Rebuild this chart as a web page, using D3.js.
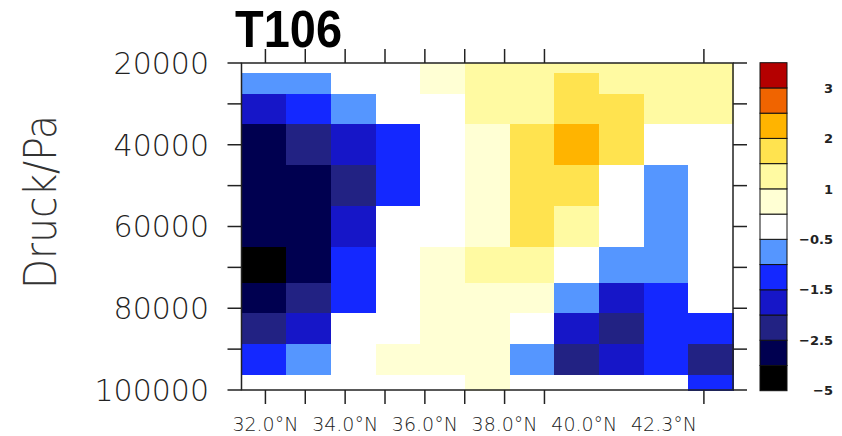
<!DOCTYPE html>
<html>
<head>
<meta charset="utf-8">
<script src="https://cdn.jsdelivr.net/npm/d3@7"></script>
<style>
  html, body { margin: 0; padding: 0; background: #fff; }
  svg { display: block; }
</style>
</head>
<body>
<svg id="chart"></svg>
<script>
// pressure levels (Pa), top to bottom
const levels = [20000, 25000, 30000, 40000, 50000, 60000, 70000, 77500, 85000, 92500, 100000];
// T106 gaussian latitudes (deg N)
const lats = [31.96, 33.08, 34.20, 35.33, 36.45, 37.57, 38.69, 39.81, 40.93, 42.05, 43.17];
// anomaly values, one row per pressure level
const row20000  = [0.1, 0.2, 0.3, 0.4, 0.8, 1.1, 1.2, 1.3, 1.2, 1.1, 1.1];
const row25000  = [-0.8, -0.7, -0.3, 0.2, 0.7, 1.2, 1.3, 1.6, 1.4, 1.2, 1.1];
const row30000  = [-1.8, -1.3, -0.9, -0.2, 0.3, 1.1, 1.4, 1.8, 1.6, 1.2, 1.1];
const row40000  = [-2.8, -2.3, -1.9, -1.4, -0.1, 0.8, 1.9, 2.1, 1.6, 0.4, 0.2];
const row50000  = [-2.9, -2.7, -2.1, -1.2, -0.3, 0.9, 1.8, 1.6, 0.3, -0.6, -0.2];
const row60000  = [-2.9, -2.8, -1.8, -0.4, 0.0, 0.7, 1.7, 1.2, 0.2, -0.8, -0.3];
const row70000  = [-3.2, -2.6, -1.4, -0.2, 0.6, 1.1, 1.1, 0.4, -0.6, -0.9, -0.4];
const row77500  = [-2.6, -2.4, -1.3, 0.1, 0.6, 0.8, 0.7, -0.9, -1.9, -1.4, -0.4];
const row85000  = [-2.3, -1.6, -0.3, 0.4, 0.6, 0.7, 0.3, -1.7, -2.2, -1.4, -1.2];
const row92500  = [-1.4, -0.8, 0.0, 0.6, 0.7, 0.6, -0.7, -2.3, -1.9, -1.3, -2.1];
const row100000 = [-0.2, 0.0, 0.2, 0.3, 0.4, 0.6, 0.3, 0.1, -0.2, -0.4, -1.1];
const values = [row20000, row25000, row30000, row40000, row50000, row60000,
                row70000, row77500, row85000, row92500, row100000];

// contour levels and fill colours (low -> high)
const cnLevels = [-3, -2.5, -2, -1.5, -1, -0.5, 0.5, 1, 1.5, 2, 2.5, 3];
const palette = ["#000000", "#000050", "#222283", "#1616c8", "#1428ff", "#5596ff", "#ffffff",
                 "#ffffd4", "#fffaa2", "#ffe34f", "#ffb400", "#f06400", "#b40000"];
// labelbar labels, every other box edge starting at the bottom
const cbLabels = ["\u22125", "\u22122.5", "\u22121.5", "\u22120.5", "1", "2", "3"];

const yTicks = [20000, 30000, 40000, 50000, 60000, 70000, 80000, 90000, 100000];
const yLabelTicks = [20000, 40000, 60000, 80000, 100000];
const xTicks = [32, 33, 34, 35, 36, 37, 38, 39, 43];
const xLabelLats = [32, 34, 36, 38, 40, 42];
const xLabels = ["32.0°N", "34.0°N", "36.0°N", "38.0°N", "40.0°N", "42.3°N"];

const width = 842, height = 436;
const plotLeft = 241.5, plotRight = 733, plotTop = 63, plotBottom = 390;
const thinFont = "'DejaVu Sans', sans-serif";

const svg = d3.select("#chart")
    .attr("width", width)
    .attr("height", height)
    .attr("viewBox", [0, 0, width, height]);

// cell edges
const latEdges = [lats[0] - (lats[1] - lats[0]) / 2];
for (let i = 1; i < lats.length; i++) latEdges.push((lats[i - 1] + lats[i]) / 2);
latEdges.push(lats[lats.length - 1] + (lats[lats.length - 1] - lats[lats.length - 2]) / 2);
const pEdges = [levels[0]];
for (let i = 1; i < levels.length; i++) pEdges.push((levels[i - 1] + levels[i]) / 2);
pEdges.push(levels[levels.length - 1]);

const x = d3.scaleLinear()
    .domain([latEdges[0], latEdges[latEdges.length - 1]])
    .range([plotLeft, plotRight]);
const y = d3.scaleLinear()
    .domain([20000, 100000])
    .range([plotTop, plotBottom]);
const color = d3.scaleThreshold().domain(cnLevels).range(palette);

const cells = [];
values.forEach((row, i) => row.forEach((v, j) => cells.push({i, j, v})));

svg.append("g")
    .attr("shape-rendering", "crispEdges")
  .selectAll("rect")
  .data(cells)
  .join("rect")
    .attr("x", d => x(latEdges[d.j]))
    .attr("y", d => y(pEdges[d.i]))
    .attr("width", d => x(latEdges[d.j + 1]) - x(latEdges[d.j]) + 0.5)
    .attr("height", d => y(pEdges[d.i + 1]) - y(pEdges[d.i]) + 0.5)
    .attr("fill", d => color(d.v));

// frame
svg.append("rect")
    .attr("x", plotLeft).attr("y", plotTop)
    .attr("width", plotRight - plotLeft).attr("height", plotBottom - plotTop)
    .attr("fill", "none").attr("stroke", "#222").attr("stroke-width", 1.5);

// axes (outward ticks on all four sides)
const tickLen = 14;
const ax = svg.append("g").attr("stroke", "#222").attr("stroke-width", 1.5);
ax.selectAll(".tl").data(yTicks).join("line")
    .attr("x1", plotLeft - tickLen).attr("x2", plotLeft)
    .attr("y1", d => y(d)).attr("y2", d => y(d));
ax.selectAll(".tr").data(yTicks).join("line")
    .attr("x1", plotRight).attr("x2", plotRight + tickLen)
    .attr("y1", d => y(d)).attr("y2", d => y(d));
ax.selectAll(".tt").data(xTicks).join("line")
    .attr("x1", d => x(d)).attr("x2", d => x(d))
    .attr("y1", plotTop - tickLen).attr("y2", plotTop);
ax.selectAll(".tb").data(xTicks).join("line")
    .attr("x1", d => x(d)).attr("x2", d => x(d))
    .attr("y1", plotBottom).attr("y2", plotBottom + tickLen);

svg.append("g")
  .selectAll("text")
  .data(yLabelTicks)
  .join("text")
    .attr("x", 209)
    .attr("y", d => y(d))
    .attr("dy", "0.36em")
    .attr("text-anchor", "end")
    .attr("font-family", thinFont)
    .attr("font-weight", 200)
    .attr("font-size", 30)
    .attr("fill", "#222")
    .text(d => d);

svg.append("g")
  .selectAll("text")
  .data(xLabelLats)
  .join("text")
    .attr("x", d => x(d))
    .attr("y", 431)
    .attr("text-anchor", "middle")
    .attr("font-family", thinFont)
    .attr("font-weight", 200)
    .attr("font-size", 19)
    .attr("fill", "#222")
    .text((d, i) => xLabels[i]);

// y axis title
svg.append("text")
    .attr("transform", "translate(56,202) rotate(-90)")
    .attr("text-anchor", "middle")
    .attr("font-family", thinFont)
    .attr("font-weight", 200)
    .attr("font-size", 44)
    .attr("fill", "#333")
    .attr("textLength", 174)
    .attr("lengthAdjust", "spacingAndGlyphs")
    .text("Druck/Pa");

// title
svg.append("text")
    .attr("x", 235)
    .attr("y", 46.5)
    .attr("font-family", "'Liberation Sans', Arial, sans-serif")
    .attr("font-weight", "bold")
    .attr("font-size", 52)
    .attr("fill", "#000")
    .attr("textLength", 107)
    .attr("lengthAdjust", "spacingAndGlyphs")
    .text("T106");

// labelbar
const cb = d3.scaleLinear().domain([0, palette.length]).range([390.7, 62.7]);
const cbg = svg.append("g");
cbg.selectAll("rect")
  .data(palette)
  .join("rect")
    .attr("x", 760)
    .attr("y", (d, i) => cb(i + 1))
    .attr("width", 27)
    .attr("height", (d, i) => cb(i) - cb(i + 1))
    .attr("fill", d => d)
    .attr("stroke", "#111")
    .attr("stroke-width", 1);
cbg.selectAll("text")
  .data(cbLabels)
  .join("text")
    .attr("x", 833)
    .attr("y", (d, i) => cb(i * 2))
    .attr("dy", "0.36em")
    .attr("text-anchor", "end")
    .attr("font-family", "'DejaVu Sans', sans-serif")
    .attr("font-weight", "bold")
    .attr("font-size", 13)
    .attr("fill", "#222")
    .text(d => d);
</script>
</body>
</html>
